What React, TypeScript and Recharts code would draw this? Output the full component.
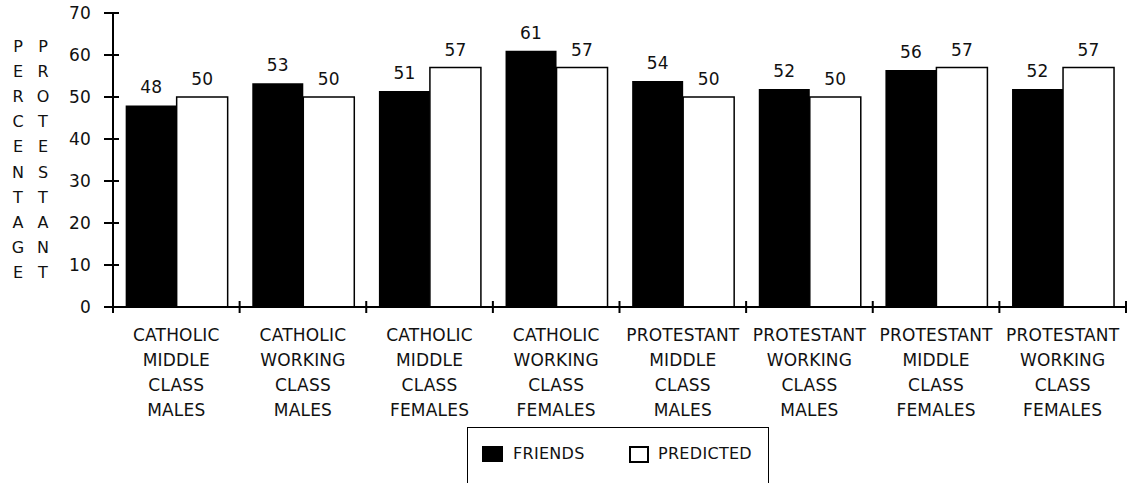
import React from "react";

import { Bar, BarChart, LabelList, Legend, XAxis, YAxis } from "recharts";

const categories = [
  "CATHOLIC MIDDLE CLASS MALES",
  "CATHOLIC WORKING CLASS MALES",
  "CATHOLIC MIDDLE CLASS FEMALES",
  "CATHOLIC WORKING CLASS FEMALES",
  "PROTESTANT MIDDLE CLASS MALES",
  "PROTESTANT WORKING CLASS MALES",
  "PROTESTANT MIDDLE CLASS FEMALES",
  "PROTESTANT WORKING CLASS FEMALES",
];
const friends = [48, 53.3, 51.4, 61, 53.8, 51.9, 56.4, 51.9];
const predicted = [50, 50, 57, 57, 50, 50, 57, 57];
const yTicks = [0, 10, 20, 30, 40, 50, 60, 70];
const yLabelLeft = "PERCENTAGE";
const yLabelRight = "PROTESTANT";

const FONT = "'DejaVu Sans', Verdana, sans-serif";
const W = 1127;
const H = 483;
const AXIS_X = 113;
const PLOT_RIGHT = 1126;
const BAND = (PLOT_RIGHT - AXIS_X) / categories.length;

const data = categories.map((category, i) => ({
  category,
  friends: friends[i],
  predicted: predicted[i],
}));

const textStyle = { fontFamily: FONT, fontSize: 17, letterSpacing: 0.2 };

const XTick = (props: any) => {
  const { x, y, payload, index } = props;
  const words: string[] = String(payload.value).split(" ");
  const last = index === categories.length - 1;
  return (
    <g>
      <line x1={x - BAND / 2} x2={x - BAND / 2} y1={y - 6} y2={y + 6} stroke="#000" strokeWidth={2} />
      {last && (
        <line x1={x + BAND / 2} x2={x + BAND / 2} y1={y - 6} y2={y + 6} stroke="#000" strokeWidth={2} />
      )}
      <text textAnchor="middle" fill="#111" style={textStyle}>
        {words.map((w, i) => (
          <tspan key={i} x={x} y={y + 34 + i * 25}>
            {w}
          </tspan>
        ))}
      </text>
    </g>
  );
};

const YTick = (props: any) => {
  const { x, y, payload } = props;
  return (
    <g>
      <line x1={x - 9} x2={x + 6} y1={y} y2={y} stroke="#000" strokeWidth={2} />
      <text x={x - 22} y={y + 6} textAnchor="end" fill="#111" style={textStyle}>
        {payload.value}
      </text>
    </g>
  );
};

const YLabel = () => (
  <g>
    {yLabelLeft.split("").map((c, i) => (
      <text key={"l" + i} x={18} y={52 + i * 25.1} textAnchor="middle" fill="#111" style={{ ...textStyle, fontSize: 16, letterSpacing: 0 }}>
        {c}
      </text>
    ))}
    {yLabelRight.split("").map((c, i) => (
      <text key={"r" + i} x={43} y={52 + i * 25.1} textAnchor="middle" fill="#111" style={{ ...textStyle, fontSize: 16, letterSpacing: 0 }}>
        {c}
      </text>
    ))}
  </g>
);

const LegendBox = () => (
  <div
    style={{
      position: "relative",
      width: 300,
      height: 70,
      border: "1.5px solid #000",
      fontFamily: FONT,
      fontSize: 16,
      letterSpacing: 0.3,
      color: "#111",
    }}
  >
    <div style={{ position: "absolute", left: 14, top: 18, width: 21, height: 16, background: "#000" }} />
    <div style={{ position: "absolute", left: 45, top: 17, lineHeight: "18px" }}>FRIENDS</div>
    <div
      style={{
        position: "absolute",
        left: 161,
        top: 18,
        width: 16,
        height: 13,
        border: "2px solid #000",
        background: "#fff",
      }}
    />
    <div style={{ position: "absolute", left: 190, top: 17, lineHeight: "18px" }}>PREDICTED</div>
  </div>
);

const App = () => (
  <div style={{ position: "absolute", left: 0, top: 0, width: W, height: H, overflow: "hidden", background: "#fff" }}>
    <BarChart
      width={W}
      height={H}
      data={data}
      margin={{ top: 13, right: W - PLOT_RIGHT, left: 0, bottom: 66 }}
      barGap={0}
      barCategoryGap="10%"
    >
      <XAxis
        dataKey="category"
        interval={0}
        height={110}
        tickSize={0}
        tickMargin={0}
        tickLine={false}
        axisLine={{ stroke: "#000", strokeWidth: 2 }}
        tick={<XTick />}
      />
      <YAxis
        width={AXIS_X}
        domain={[0, 70]}
        ticks={yTicks}
        interval={0}
        tickSize={0}
        tickMargin={0}
        tickLine={false}
        axisLine={{ stroke: "#000", strokeWidth: 2 }}
        tick={<YTick />}
        label={{ content: () => <YLabel /> }}
      />
      <Legend
        layout="horizontal"
        verticalAlign="middle"
        align="center"
        content={() => <LegendBox />}
        wrapperStyle={{ left: 467, top: 427, width: 303 }}
      />
      <Bar dataKey="friends" name="FRIENDS" fill="#000" isAnimationActive={false}>
        <LabelList
          dataKey="friends"
          position="top"
          offset={12}
          formatter={(v: any) => Math.round(Number(v))}
          style={{ ...textStyle, fill: "#111" }}
        />
      </Bar>
      <Bar dataKey="predicted" name="PREDICTED" fill="#fff" stroke="#000" strokeWidth={1.5} isAnimationActive={false}>
        <LabelList
          dataKey="predicted"
          position="top"
          offset={12}
          formatter={(v: any) => Math.round(Number(v))}
          style={{ ...textStyle, fill: "#111" }}
        />
      </Bar>
    </BarChart>
  </div>
);

export default App;
